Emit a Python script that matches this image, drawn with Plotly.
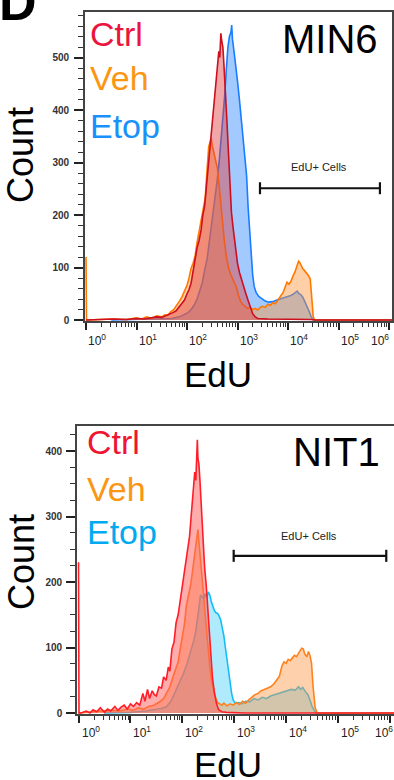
import math
import plotly.graph_objects as go

W, H = 394, 780
FONT = "Liberation Sans, Arial, sans-serif"

# ---------------- DATA (x values are log10(EdU)) ----------------
# Panel 1: MIN6
MIN6_CTRL_LOG = [0.00, 0.30, 0.55, 0.80, 1.00, 1.15, 1.30, 1.40, 1.50, 1.58, 1.65, 1.72, 1.78, 1.84, 1.90,
                 1.95, 2.00, 2.04, 2.08, 2.12, 2.16, 2.20, 2.24, 2.28, 2.31, 2.35, 2.38, 2.42, 2.45, 2.48,
                 2.52, 2.55, 2.58, 2.61, 2.63, 2.65, 2.67, 2.69, 2.71, 2.73, 2.76, 2.79, 2.82, 2.85, 2.88,
                 2.91, 2.94, 2.97, 3.00, 3.04, 3.08, 3.12, 3.16, 3.20, 3.25, 3.30, 3.35, 3.40, 3.60, 3.90,
                 4.20, 4.45, 4.55, 6.06]
MIN6_CTRL_COUNT = [0, 1, 2, 1, 3, 2, 4, 6, 5, 8, 10, 14, 17, 24, 31,
                   38, 50, 58, 70, 95, 122, 138, 152, 172, 198, 218, 250, 290, 328, 360,
                   392, 420, 455, 490, 512, 500, 546, 530, 520, 488, 440, 380, 320, 258, 205,
                   178, 150, 128, 108, 90, 76, 62, 52, 40, 26, 12, 6, 3, 2, 2,
                   2, 1, 0, 0]

MIN6_VEH_LOG = [0.00, 0.01, 0.04, 0.50, 0.80, 1.00, 1.10, 1.20, 1.30, 1.40, 1.50, 1.56, 1.62, 1.68, 1.74,
                1.80, 1.85, 1.90, 1.95, 2.00, 2.04, 2.08, 2.12, 2.16, 2.20, 2.24, 2.28, 2.32, 2.36, 2.40,
                2.43, 2.46, 2.48, 2.50, 2.53, 2.56, 2.60, 2.63, 2.66, 2.70, 2.74, 2.78, 2.82, 2.86, 2.90,
                2.94, 2.98, 3.02, 3.06, 3.10, 3.15, 3.20, 3.25, 3.30, 3.35, 3.40, 3.45, 3.50, 3.55, 3.60,
                3.65, 3.70, 3.75, 3.80, 3.85, 3.90, 3.94, 3.98, 4.02, 4.06, 4.10, 4.14, 4.18, 4.21, 4.23,
                4.26, 4.29, 4.32, 4.35, 4.38, 4.41, 4.44, 4.46, 4.48, 4.50, 4.53, 6.06]
MIN6_VEH_COUNT = [120, 0, 0, 2, 1, 4, 2, 6, 3, 8, 6, 10, 9, 16, 20,
                  28, 36, 44, 55, 66, 80, 98, 108, 122, 148, 170, 190, 208, 232, 290,
                  330, 340, 346, 332, 318, 305, 290, 262, 228, 190, 150, 120, 100, 88, 80,
                  72, 62, 46, 36, 30, 26, 22, 24, 20, 22, 19, 24, 26, 24, 30,
                  28, 33, 31, 38, 44, 52, 62, 72, 68, 74, 84, 92, 104, 112, 110,
                  102, 98, 95, 92, 88, 84, 78, 60, 30, 6, 0, 0]

MIN6_ETOP_LOG = [0.50, 1.00, 1.50, 1.70, 1.85, 1.95, 2.02, 2.08, 2.14, 2.20, 2.25, 2.30, 2.35, 2.40, 2.45,
                 2.50, 2.55, 2.60, 2.64, 2.68, 2.72, 2.75, 2.78, 2.81, 2.84, 2.87, 2.885, 2.90, 2.93, 2.96,
                 3.00, 3.04, 3.08, 3.12, 3.15, 3.18, 3.21, 3.24, 3.27, 3.30, 3.33, 3.37, 3.42, 3.48, 3.55,
                 3.62, 3.70, 3.78, 3.85, 3.92, 3.98, 4.04, 4.10, 4.15, 4.18, 4.22, 4.26, 4.30, 4.34, 4.38,
                 4.42, 4.46, 4.50, 6.06]
MIN6_ETOP_COUNT = [0, 1, 2, 3, 6, 10, 14, 20, 28, 40, 55, 70, 95, 118, 155,
                   190, 228, 268, 305, 348, 395, 432, 480, 520, 540, 548, 562, 535, 512, 490,
                   455, 418, 380, 342, 315, 275, 215, 168, 125, 86, 64, 52, 45, 40, 36,
                   34, 35, 38, 40, 42, 44, 46, 49, 53, 55, 50, 48, 42, 34, 26,
                   16, 6, 0, 0]

# Panel 2: NIT1
NIT1_CTRL_LOG = [0.00, 0.01, 0.05, 0.15, 0.22, 0.28, 0.35, 0.42, 0.50, 0.56, 0.62, 0.70, 0.76, 0.82, 0.88,
                 0.94, 1.00, 1.06, 1.12, 1.18, 1.24, 1.28, 1.33, 1.37, 1.42, 1.46, 1.50, 1.55, 1.60, 1.64,
                 1.69, 1.73, 1.76, 1.80, 1.84, 1.88, 1.92, 1.96, 2.00, 2.04, 2.08, 2.11, 2.14, 2.17, 2.20,
                 2.22, 2.24, 2.26, 2.28, 2.29, 2.30, 2.32, 2.34, 2.37, 2.40, 2.43, 2.46, 2.49, 2.52, 2.55,
                 2.58, 2.62, 2.66, 2.70, 2.76, 2.85, 3.20, 4.50, 6.08]
NIT1_CTRL_COUNT = [230, 0, 0, 3, 0, 5, 2, 8, 1, 6, 3, 10, 4, 9, 12,
                   6, 14, 10, 16, 12, 30, 18, 36, 22, 34, 28, 26, 40, 38, 55,
                   50, 70, 64, 98, 108, 138, 150, 172, 195, 215, 236, 258, 270, 300, 330,
                   345, 368, 355, 395, 417, 390, 380, 355, 310, 262, 222, 196, 160, 118, 85,
                   55, 30, 14, 5, 2, 1, 0, 0, 0]

NIT1_VEH_LOG = [0.00, 0.30, 0.60, 0.80, 0.95, 1.05, 1.15, 1.25, 1.35, 1.45, 1.52, 1.58, 1.64, 1.70, 1.76,
                1.82, 1.87, 1.92, 1.96, 2.00, 2.04, 2.08, 2.12, 2.16, 2.20, 2.23, 2.26, 2.28, 2.30, 2.32,
                2.35, 2.38, 2.41, 2.44, 2.47, 2.50, 2.53, 2.56, 2.60, 2.64, 2.68, 2.72, 2.76, 2.80, 2.86,
                2.92, 2.98, 3.04, 3.10, 3.16, 3.22, 3.28, 3.34, 3.40, 3.46, 3.52, 3.58, 3.64, 3.70, 3.76,
                3.82, 3.87, 3.92, 3.96, 4.00, 4.04, 4.08, 4.12, 4.16, 4.20, 4.24, 4.27, 4.30, 4.33, 4.36,
                4.40, 4.43, 4.46, 4.49, 4.52, 4.56, 4.60, 6.08]
NIT1_VEH_COUNT = [0, 2, 4, 3, 6, 4, 8, 6, 10, 12, 15, 18, 22, 30, 40,
                  55, 66, 78, 98, 118, 135, 165, 180, 195, 218, 235, 250, 268, 280, 262,
                  238, 205, 180, 150, 120, 90, 70, 50, 35, 24, 16, 14, 12, 15, 11,
                  14, 12, 16, 13, 18, 15, 20, 24, 28, 30, 34, 36, 38, 40, 44,
                  50, 56, 72, 78, 76, 82, 80, 84, 88, 86, 92, 96, 99, 98, 90,
                  86, 94, 88, 76, 40, 8, 0, 0]

NIT1_ETOP_LOG = [0.50, 1.00, 1.30, 1.50, 1.60, 1.70, 1.78, 1.84, 1.90, 1.96, 2.02, 2.08, 2.13, 2.18, 2.22,
                 2.26, 2.29, 2.32, 2.35, 2.38, 2.41, 2.44, 2.47, 2.50, 2.53, 2.56, 2.59, 2.62, 2.65, 2.68,
                 2.71, 2.74, 2.77, 2.80, 2.83, 2.86, 2.89, 2.92, 2.95, 2.98, 3.02, 3.08, 3.15, 3.22, 3.30,
                 3.38, 3.46, 3.54, 3.62, 3.70, 3.78, 3.86, 3.94, 4.02, 4.10, 4.18, 4.24, 4.28, 4.32, 4.37,
                 4.42, 4.46, 4.50, 4.54, 4.58, 6.08]
NIT1_ETOP_COUNT = [0, 1, 3, 5, 7, 10, 18, 28, 38, 50, 60, 72, 85, 98, 110,
                   125, 140, 160, 180, 178, 175, 182, 176, 185, 180, 170, 162, 156, 153, 152,
                   148, 142, 130, 118, 100, 82, 62, 42, 30, 20, 15, 16, 14, 18, 17,
                   22, 20, 24, 22, 26, 28, 30, 33, 34, 36, 35, 40, 36, 39, 33,
                   28, 20, 10, 4, 0, 0]

# EdU+ gate: [log10 low, log10 high, count level]
MIN6_GATE = [3.445, 5.82, 251]
NIT1_GATE = [2.99, 5.93, 240]

SERIES_NAMES = ["Ctrl", "Veh", "Etop"]
PANEL_NAMES = ["MIN6", "NIT1"]
X_DECADES = [0, 1, 2, 3, 4, 5, 6]
Y_TICKS_TOP = [0, 100, 200, 300, 400, 500]
Y_TICKS_BOT = [0, 100, 200, 300, 400]

# ---------------- STYLE ----------------
TOP_STYLE = {
    "Etop": ("rgb(25,125,255)", "rgba(70,150,255,0.50)"),
    "Veh": ("rgb(255,120,0)", "rgba(255,150,60,0.45)"),
    "Ctrl": ("rgb(205,15,30)", "rgba(225,60,60,0.45)"),
}
BOT_STYLE = {
    "Etop": ("rgb(20,190,245)", "rgba(80,210,250,0.45)"),
    "Veh": ("rgb(255,130,30)", "rgba(255,150,70,0.45)"),
    "Ctrl": ("rgb(255,30,40)", "rgba(255,90,90,0.50)"),
}
TOP_TEXT = {"Ctrl": "rgb(235,20,60)", "Veh": "rgb(250,150,20)", "Etop": "rgb(25,145,250)"}
BOT_TEXT = {"Ctrl": "rgb(240,20,50)", "Veh": "rgb(250,150,20)", "Etop": "rgb(0,170,240)"}


def px(xp):
    return xp / W


def py(yp):
    return 1 - yp / H


fig = go.Figure()

panels = [
    ("x", "y", TOP_STYLE, {"Etop": (MIN6_ETOP_LOG, MIN6_ETOP_COUNT), "Veh": (MIN6_VEH_LOG, MIN6_VEH_COUNT),
                           "Ctrl": (MIN6_CTRL_LOG, MIN6_CTRL_COUNT)}, MIN6_GATE, 11.4),
    ("x2", "y2", BOT_STYLE, {"Etop": (NIT1_ETOP_LOG, NIT1_ETOP_COUNT), "Veh": (NIT1_VEH_LOG, NIT1_VEH_COUNT),
                             "Ctrl": (NIT1_CTRL_LOG, NIT1_CTRL_COUNT)}, NIT1_GATE, 9.2),
]

for xa, ya, style, data, gate, cap in panels:
    for name in ["Etop", "Veh", "Ctrl"]:
        xs, ys = data[name]
        lc, fc = style[name]
        fig.add_trace(go.Scatter(x=xs, y=ys, mode="lines", line=dict(color=lc, width=1.6),
                                 fill="tozeroy", fillcolor=fc, xaxis=xa, yaxis=ya,
                                 showlegend=False, hoverinfo="skip"))
    lo, hi, lvl = gate
    fig.add_trace(go.Scatter(
        x=[lo, hi, None, lo, lo, None, hi, hi],
        y=[lvl, lvl, None, lvl - cap, lvl + cap, None, lvl - cap, lvl + cap],
        mode="lines", line=dict(color="#111", width=2.2), xaxis=xa, yaxis=ya,
        showlegend=False, hoverinfo="skip"))

minor_x = [n + math.log10(k) for n in range(6) for k in range(2, 10)]

axis_common = dict(showgrid=False, zeroline=False, showline=True, linecolor="#444", linewidth=1.6,
                   mirror=True, ticks="outside", tickcolor="#222", automargin=False)

fig.update_layout(
    width=W, height=H, margin=dict(l=0, r=0, t=0, b=0, pad=0, autoexpand=False),
    paper_bgcolor="white", plot_bgcolor="white",
    xaxis=dict(domain=[px(85), px(392)], anchor="y", range=[-0.0198, 6.059],
               tickmode="array", tickvals=X_DECADES, ticklen=7, tickwidth=2, showticklabels=False,
               minor=dict(tickmode="array", tickvals=minor_x, ticklen=4, tickwidth=1, tickcolor="#333",
                          ticks="outside"),
               **axis_common),
    yaxis=dict(domain=[py(321), py(12)], anchor="x", range=[-1.9, 586.7],
               tickmode="array", tickvals=Y_TICKS_TOP, ticklen=9, tickwidth=2.2, ticklabelstandoff=3,
               tickfont=dict(family=FONT, size=10, color="#333", weight="bold"),
               minor=dict(dtick=20, tick0=0, ticklen=5, tickwidth=1.2, tickcolor="#333", ticks="outside"),
               **axis_common),
    xaxis2=dict(domain=[px(77), 1.0], anchor="y2", range=[-0.029, 6.079],
                tickmode="array", tickvals=X_DECADES, ticklen=7, tickwidth=2, showticklabels=False,
                minor=dict(tickmode="array", tickvals=minor_x, ticklen=4, tickwidth=1, tickcolor="#333",
                           ticks="outside"),
                **axis_common),
    yaxis2=dict(domain=[py(714), py(426)], anchor="x2", range=[-1.5, 438.2],
                tickmode="array", tickvals=Y_TICKS_BOT, ticklen=9, tickwidth=2.2, ticklabelstandoff=2,
                tickfont=dict(family=FONT, size=10, color="#333", weight="bold"),
                minor=dict(dtick=25, tick0=0, ticklen=5, tickwidth=1.2, tickcolor="#333", ticks="outside"),
                **axis_common),
)

ann = []


def text(x, y, s, size, color="black", xanchor="center", yanchor="middle", angle=0, bold=False, **kw):
    ann.append(dict(x=x, y=y, xref=kw.pop("xref", "paper"), yref=kw.pop("yref", "paper"), text=s,
                    showarrow=False, xanchor=xanchor, yanchor=yanchor, textangle=angle,
                    font=dict(family=FONT, size=size, color=color, weight="bold" if bold else "normal"),
                    **kw))


# Panel letter
text(px(-3), py(2), "D", 52, xanchor="left", bold=True)

# Series labels
for i, name in enumerate(SERIES_NAMES):
    text(px(88), py([34.5, 78, 126][i]), name, 34, TOP_TEXT[name], xanchor="left")
    text(px(85), py([442, 489, 532][i]), name, 34, BOT_TEXT[name], xanchor="left")

# Panel names
text(px(380), py(39), PANEL_NAMES[0], 40, xanchor="right")
text(px(382), py(452), PANEL_NAMES[1], 40, xanchor="right")

# Gate labels
text(px(319), py(167), "EdU+ Cells", 11, "#222")
text(px(309), py(536), "EdU+ Cells", 11, "#222")

# Axis titles
text(px(21), py(155), "Count", 36, angle=-90)
text(px(21), py(562), "Count", 36, angle=-90)
text(px(218), py(374), "EdU", 35)
text(px(228), py(764), "EdU", 35)

# X tick labels
for n in X_DECADES:
    lab = "10<sup>%d</sup>" % n
    if n < 6:
        text(n, py(330), lab, 12, "#222", xanchor="left", yanchor="top", xref="x", xshift=0)
        text(n, py(722), lab, 12, "#222", xanchor="left", yanchor="top", xref="x2", xshift=1)
    else:
        text(n, py(330), lab, 12, "#222", xanchor="right", yanchor="top", xref="x", xshift=2)
        text(n, py(722), lab, 12, "#222", xanchor="right", yanchor="top", xref="x2", xshift=5)

fig.update_layout(annotations=ann)
fig.write_html("out.html", config={"displayModeBar": False},
               post_script="document.body.style.margin='0';document.body.style.overflow='hidden';")
